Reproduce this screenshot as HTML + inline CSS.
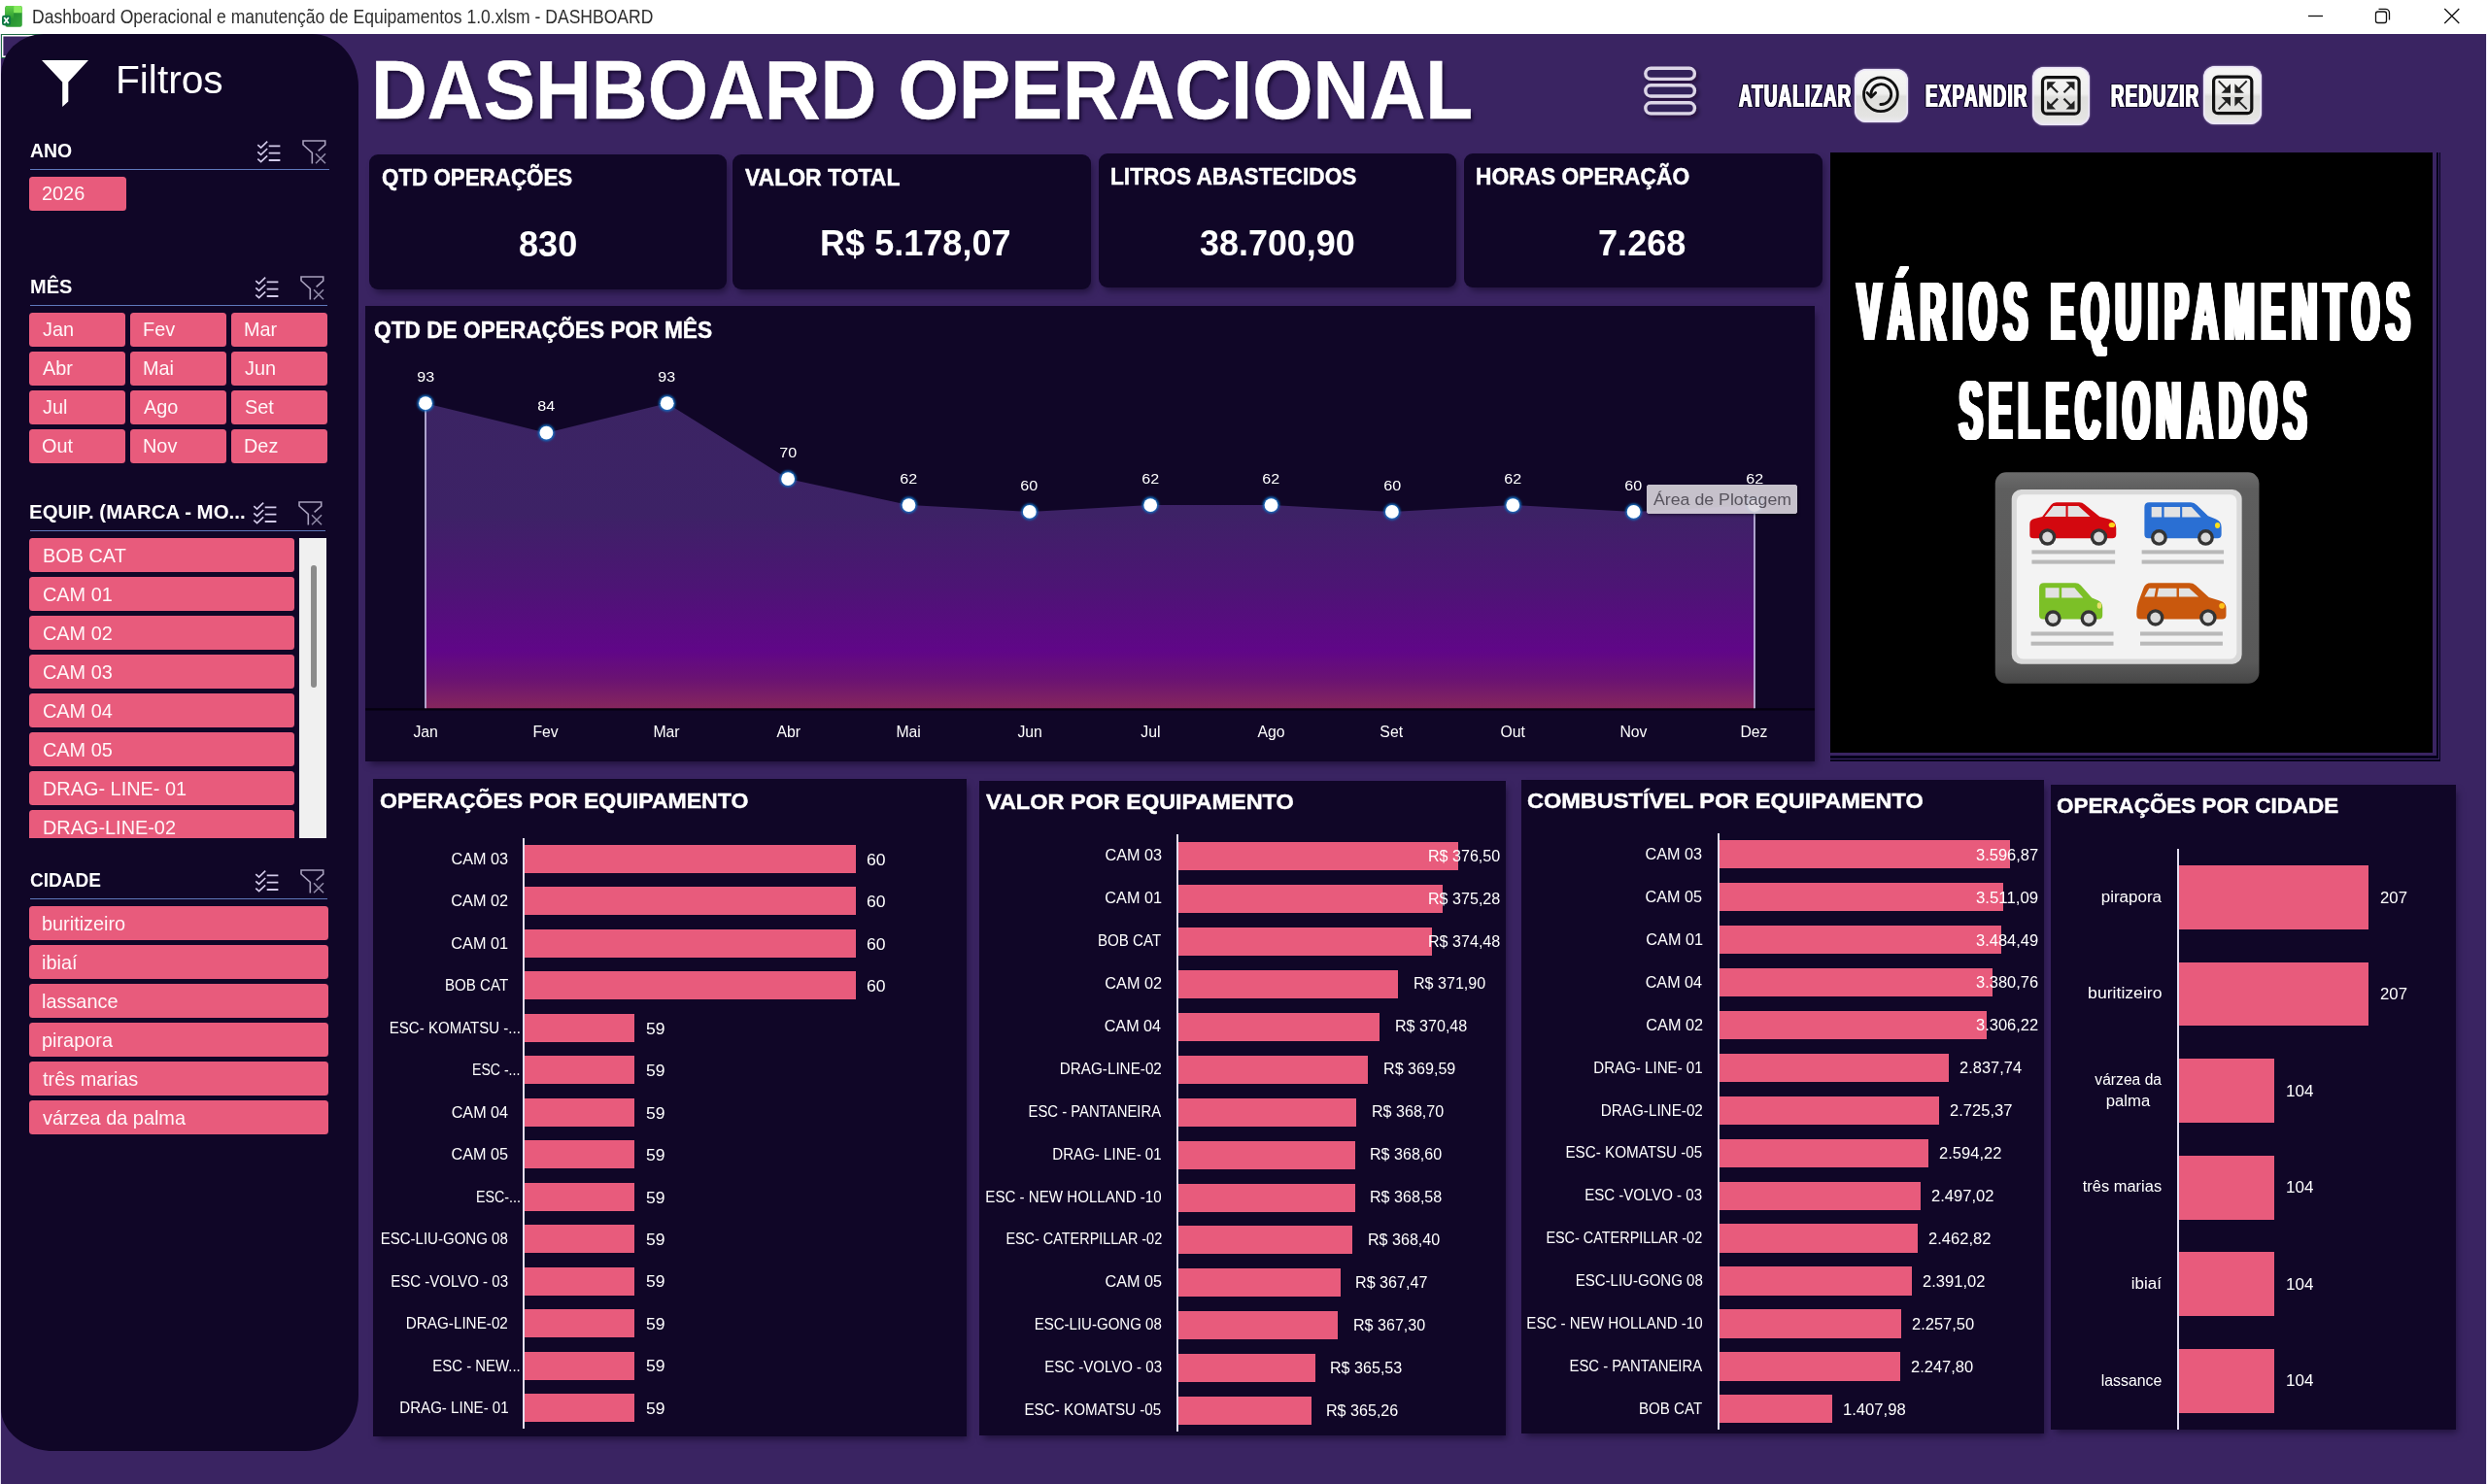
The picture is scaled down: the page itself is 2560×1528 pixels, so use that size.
<!DOCTYPE html>
<html lang="pt-BR"><head><meta charset="utf-8"><title>Dashboard Operacional</title>
<style>
*{margin:0;padding:0;box-sizing:border-box}
html,body{width:2560px;height:1528px;overflow:hidden;background:#3a2462}
body{position:relative;font-family:"Liberation Sans",sans-serif;color:#fff}
.t{position:absolute;white-space:nowrap;display:block}
.b{position:absolute}
svg{position:absolute;overflow:visible}
.sh{box-shadow:3px 5px 7px -2px rgba(8,2,24,.5)}
.btn{position:absolute;background:#e85b7c;border-radius:3.5px;height:35px}
</style></head><body>

<div class="b " style="left:0.00px;top:0.00px;width:2560.00px;height:35.00px;background:#fff;"></div>
<div class="b " style="left:2557.70px;top:35.00px;width:1.10px;height:1493.00px;background:#33235a;"></div>
<div class="b " style="left:2558.80px;top:35.00px;width:1.20px;height:1493.00px;background:#efe8fb;"></div>
<div class="b " style="left:0.00px;top:35.00px;width:1.10px;height:1493.00px;background:#e4ddf1;"></div>
<svg style="left:0;top:0" width="30" height="35" viewBox="0 0 30 35">
<defs><linearGradient id="xa" x1="0" y1="0" x2="0" y2="1"><stop offset="0" stop-color="#63d348"/><stop offset="1" stop-color="#2b9a31"/></linearGradient>
<linearGradient id="xb" x1="0" y1="0" x2="1" y2="1"><stop offset="0" stop-color="#1a7f2b"/><stop offset="1" stop-color="#36a83a"/></linearGradient></defs>
<rect x="5.3" y="6.1" width="17.5" height="21.7" rx="2.2" fill="url(#xb)"/>
<path d="M7.5 6.1h6.6v13H5.3V8.3a2.2 2.2 0 0 1 2.2-2.2z" fill="url(#xa)"/>
<path d="M14.1 6.1h6.5a2.2 2.2 0 0 1 2.2 2.2v4.9h-8.7z" fill="#86ea5e"/>
<rect x="2" y="15.8" width="9.1" height="10.5" rx="2.3" fill="#107a45"/>
<path d="M4.3 18.1l4.5 6M8.8 18.1l-4.5 6" stroke="#fff" stroke-width="1.7"/>
</svg>
<span class="t " style="font-size:19.62px;line-height:19.62px;top:7.79px;color:#2e2e2e;left:33.06px;transform-origin:0 0;transform:scaleX(0.8942);">Dashboard Operacional e manutenção de Equipamentos 1.0.xlsm - DASHBOARD</span>
<svg style="left:2370px;top:0" width="170" height="35" viewBox="2370 0 170 35" fill="none" stroke="#111" stroke-width="1.3">
<path d="M2376 16.5h15"/>
<rect x="2445.5" y="12" width="11" height="11.5" rx="2.2"/><path d="M2448.5 9.4h7a4 4 0 0 1 4 4v7.2"/>
<path d="M2516.3 9l15 15M2531.3 9l-15 15"/></svg>
<div class="b " style="left:1.00px;top:35.00px;width:45.00px;height:24.70px;background:#3a2462;border:1.8px solid #1f6b45;box-shadow:inset 0 0 0 1.4px #fff;"></div>
<div class="b " style="left:1.00px;top:35.00px;width:368.00px;height:1459.00px;background:#100627;border-radius:44px 48px 55px 55px / 42px 54px 58px 44px;"></div>
<svg style="left:43px;top:62px" width="48" height="48" viewBox="0 0 48 48"><path d="M0 0H48L27.3 22.5V42.5L21.2 48V22.5Z" fill="#fff"/></svg>
<span class="t " style="font-size:40.84px;line-height:40.84px;top:62.23px;color:#fff;left:118.96px;transform-origin:0 0;transform:scaleX(0.9957);">Filtros</span>
<span class="t " style="font-size:20.93px;line-height:20.93px;top:144.98px;color:#fff;font-weight:700;left:30.82px;transform-origin:0 0;transform:scaleX(0.9288);">ANO</span>
<svg style="left:264.8px;top:144.7px" width="24" height="23" viewBox="0 0 24 23" fill="none" stroke="#d3cbea" stroke-width="1.65">
<path d="M0.3 4.1l3.3 3 6.6-6.4M0.3 11.4l3.3 3 6.6-6.4M0.3 18.7l3.3 3 6.6-6.4"/>
<path d="M11.7 5.4h11.7M11.7 12.6h11.7M11.7 20h11.7" stroke-width="1.85"/></svg>
<svg style="left:310.5px;top:144.0px" width="25" height="25" viewBox="0 0 25 25" fill="none" stroke="#a8a1bd" stroke-width="1.6">
<path d="M16.6 11.4l7.1-6.3V1H1v4l9.3 8.4V24.6"/><path d="M14 14.3l10 10M24 14.3l-10 10" stroke="#8f89a6"/></svg>
<div class="b " style="left:31.00px;top:173.90px;width:308.00px;height:1.15px;background:#5f78bb;"></div>
<div class="btn" style="left:30.0px;top:182.0px;width:100.0px;height:35.0px"></div>
<span class="t " style="font-size:19.80px;line-height:19.80px;top:190.44px;color:#fff6f8;left:43.40px;transform-origin:0 0;transform:scaleX(1.0050);">2026</span>
<span class="t " style="font-size:20.93px;line-height:20.93px;top:284.98px;color:#fff;font-weight:700;left:30.56px;transform-origin:0 0;transform:scaleX(0.9551);">MÊS</span>
<svg style="left:262.8px;top:284.7px" width="24" height="23" viewBox="0 0 24 23" fill="none" stroke="#d3cbea" stroke-width="1.65">
<path d="M0.3 4.1l3.3 3 6.6-6.4M0.3 11.4l3.3 3 6.6-6.4M0.3 18.7l3.3 3 6.6-6.4"/>
<path d="M11.7 5.4h11.7M11.7 12.6h11.7M11.7 20h11.7" stroke-width="1.85"/></svg>
<svg style="left:308.5px;top:284.0px" width="25" height="25" viewBox="0 0 25 25" fill="none" stroke="#a8a1bd" stroke-width="1.6">
<path d="M16.6 11.4l7.1-6.3V1H1v4l9.3 8.4V24.6"/><path d="M14 14.3l10 10M24 14.3l-10 10" stroke="#8f89a6"/></svg>
<div class="b " style="left:31.00px;top:313.90px;width:306.00px;height:1.15px;background:#5f78bb;"></div>
<div class="btn" style="left:30.0px;top:322.0px;width:99.0px;height:35.0px"></div>
<span class="t " style="font-size:19.80px;line-height:19.80px;top:330.44px;color:#fff6f8;left:44.09px;transform-origin:0 0;transform:scaleX(1.0050);">Jan</span>
<div class="btn" style="left:134.0px;top:322.0px;width:99.0px;height:35.0px"></div>
<span class="t " style="font-size:19.80px;line-height:19.80px;top:330.44px;color:#fff6f8;left:146.77px;transform-origin:0 0;transform:scaleX(1.0050);">Fev</span>
<div class="btn" style="left:238.0px;top:322.0px;width:99.0px;height:35.0px"></div>
<span class="t " style="font-size:19.80px;line-height:19.80px;top:330.44px;color:#fff6f8;left:250.77px;transform-origin:0 0;transform:scaleX(1.0050);">Mar</span>
<div class="btn" style="left:30.0px;top:362.0px;width:99.0px;height:35.0px"></div>
<span class="t " style="font-size:19.80px;line-height:19.80px;top:370.44px;color:#fff6f8;left:44.36px;transform-origin:0 0;transform:scaleX(1.0050);">Abr</span>
<div class="btn" style="left:134.0px;top:362.0px;width:99.0px;height:35.0px"></div>
<span class="t " style="font-size:19.80px;line-height:19.80px;top:370.44px;color:#fff6f8;left:146.77px;transform-origin:0 0;transform:scaleX(1.0050);">Mai</span>
<div class="btn" style="left:238.0px;top:362.0px;width:99.0px;height:35.0px"></div>
<span class="t " style="font-size:19.80px;line-height:19.80px;top:370.44px;color:#fff6f8;left:252.09px;transform-origin:0 0;transform:scaleX(1.0050);">Jun</span>
<div class="btn" style="left:30.0px;top:402.0px;width:99.0px;height:35.0px"></div>
<span class="t " style="font-size:19.80px;line-height:19.80px;top:410.44px;color:#fff6f8;left:44.09px;transform-origin:0 0;transform:scaleX(1.0050);">Jul</span>
<div class="btn" style="left:134.0px;top:402.0px;width:99.0px;height:35.0px"></div>
<span class="t " style="font-size:19.80px;line-height:19.80px;top:410.44px;color:#fff6f8;left:148.36px;transform-origin:0 0;transform:scaleX(1.0050);">Ago</span>
<div class="btn" style="left:238.0px;top:402.0px;width:99.0px;height:35.0px"></div>
<span class="t " style="font-size:19.80px;line-height:19.80px;top:410.44px;color:#fff6f8;left:251.50px;transform-origin:0 0;transform:scaleX(1.0050);">Set</span>
<div class="btn" style="left:30.0px;top:442.0px;width:99.0px;height:35.0px"></div>
<span class="t " style="font-size:19.80px;line-height:19.80px;top:450.44px;color:#fff6f8;left:43.46px;transform-origin:0 0;transform:scaleX(1.0050);">Out</span>
<div class="btn" style="left:134.0px;top:442.0px;width:99.0px;height:35.0px"></div>
<span class="t " style="font-size:19.80px;line-height:19.80px;top:450.44px;color:#fff6f8;left:146.77px;transform-origin:0 0;transform:scaleX(1.0050);">Nov</span>
<div class="btn" style="left:238.0px;top:442.0px;width:99.0px;height:35.0px"></div>
<span class="t " style="font-size:19.80px;line-height:19.80px;top:450.44px;color:#fff6f8;left:250.77px;transform-origin:0 0;transform:scaleX(1.0050);">Dez</span>
<span class="t " style="font-size:20.93px;line-height:20.93px;top:516.88px;color:#fff;font-weight:700;left:30.33px;transform-origin:0 0;transform:scaleX(0.9770);">EQUIP. (MARCA - MO...</span>
<svg style="left:260.8px;top:516.6px" width="24" height="23" viewBox="0 0 24 23" fill="none" stroke="#d3cbea" stroke-width="1.65">
<path d="M0.3 4.1l3.3 3 6.6-6.4M0.3 11.4l3.3 3 6.6-6.4M0.3 18.7l3.3 3 6.6-6.4"/>
<path d="M11.7 5.4h11.7M11.7 12.6h11.7M11.7 20h11.7" stroke-width="1.85"/></svg>
<svg style="left:306.5px;top:515.9px" width="25" height="25" viewBox="0 0 25 25" fill="none" stroke="#a8a1bd" stroke-width="1.6">
<path d="M16.6 11.4l7.1-6.3V1H1v4l9.3 8.4V24.6"/><path d="M14 14.3l10 10M24 14.3l-10 10" stroke="#8f89a6"/></svg>
<div class="b " style="left:31.00px;top:545.80px;width:304.00px;height:1.15px;background:#5f78bb;"></div>
<div class="b" style="left:30px;top:554px;width:306px;height:309px;overflow:hidden">
<div class="btn" style="left:0;top:0.3px;width:273px"></div>
<span class="t" style="left:14.40px;top:8.74px;font-size:19.8px;line-height:19.8px;color:#fff6f8;transform-origin:0 0;transform:scaleX(1.005)">BOB CAT</span>
<div class="btn" style="left:0;top:40.3px;width:273px"></div>
<span class="t" style="left:14.40px;top:48.74px;font-size:19.8px;line-height:19.8px;color:#fff6f8;transform-origin:0 0;transform:scaleX(1.005)">CAM 01</span>
<div class="btn" style="left:0;top:80.3px;width:273px"></div>
<span class="t" style="left:14.40px;top:88.74px;font-size:19.8px;line-height:19.8px;color:#fff6f8;transform-origin:0 0;transform:scaleX(1.005)">CAM 02</span>
<div class="btn" style="left:0;top:120.3px;width:273px"></div>
<span class="t" style="left:14.40px;top:128.74px;font-size:19.8px;line-height:19.8px;color:#fff6f8;transform-origin:0 0;transform:scaleX(1.005)">CAM 03</span>
<div class="btn" style="left:0;top:160.3px;width:273px"></div>
<span class="t" style="left:14.40px;top:168.74px;font-size:19.8px;line-height:19.8px;color:#fff6f8;transform-origin:0 0;transform:scaleX(1.005)">CAM 04</span>
<div class="btn" style="left:0;top:200.3px;width:273px"></div>
<span class="t" style="left:14.40px;top:208.74px;font-size:19.8px;line-height:19.8px;color:#fff6f8;transform-origin:0 0;transform:scaleX(1.005)">CAM 05</span>
<div class="btn" style="left:0;top:240.3px;width:273px"></div>
<span class="t" style="left:14.40px;top:248.74px;font-size:19.8px;line-height:19.8px;color:#fff6f8;transform-origin:0 0;transform:scaleX(1.005)">DRAG- LINE- 01</span>
<div class="btn" style="left:0;top:280.3px;width:273px"></div>
<span class="t" style="left:14.40px;top:288.74px;font-size:19.8px;line-height:19.8px;color:#fff6f8;transform-origin:0 0;transform:scaleX(1.005)">DRAG-LINE-02</span>
<div class="b" style="left:278px;top:0;width:28px;height:309px;background:#f0f0f0"></div>
<div class="b" style="left:290px;top:28px;width:6px;height:126px;background:#8b8b8b;border-radius:3px"></div>
</div>
<span class="t " style="font-size:20.93px;line-height:20.93px;top:896.18px;color:#fff;font-weight:700;left:31.12px;transform-origin:0 0;transform:scaleX(0.9089);">CIDADE</span>
<svg style="left:262.8px;top:895.9px" width="24" height="23" viewBox="0 0 24 23" fill="none" stroke="#d3cbea" stroke-width="1.65">
<path d="M0.3 4.1l3.3 3 6.6-6.4M0.3 11.4l3.3 3 6.6-6.4M0.3 18.7l3.3 3 6.6-6.4"/>
<path d="M11.7 5.4h11.7M11.7 12.6h11.7M11.7 20h11.7" stroke-width="1.85"/></svg>
<svg style="left:308.5px;top:895.2px" width="25" height="25" viewBox="0 0 25 25" fill="none" stroke="#a8a1bd" stroke-width="1.6">
<path d="M16.6 11.4l7.1-6.3V1H1v4l9.3 8.4V24.6"/><path d="M14 14.3l10 10M24 14.3l-10 10" stroke="#8f89a6"/></svg>
<div class="b " style="left:31.00px;top:925.10px;width:306.00px;height:1.15px;background:#5f78bb;"></div>
<div class="btn" style="left:30.0px;top:933.3px;width:308.0px;height:35.0px"></div>
<span class="t " style="font-size:19.80px;line-height:19.80px;top:941.74px;color:#fff6f8;left:43.12px;transform-origin:0 0;transform:scaleX(1.0050);">buritizeiro</span>
<div class="btn" style="left:30.0px;top:973.3px;width:308.0px;height:35.0px"></div>
<span class="t " style="font-size:19.80px;line-height:19.80px;top:981.74px;color:#fff6f8;left:43.07px;transform-origin:0 0;transform:scaleX(1.0050);">ibiaí</span>
<div class="btn" style="left:30.0px;top:1013.3px;width:308.0px;height:35.0px"></div>
<span class="t " style="font-size:19.80px;line-height:19.80px;top:1021.74px;color:#fff6f8;left:43.06px;transform-origin:0 0;transform:scaleX(1.0050);">lassance</span>
<div class="btn" style="left:30.0px;top:1053.3px;width:308.0px;height:35.0px"></div>
<span class="t " style="font-size:19.80px;line-height:19.80px;top:1061.74px;color:#fff6f8;left:43.12px;transform-origin:0 0;transform:scaleX(1.0050);">pirapora</span>
<div class="btn" style="left:30.0px;top:1093.3px;width:308.0px;height:35.0px"></div>
<span class="t " style="font-size:19.80px;line-height:19.80px;top:1101.74px;color:#fff6f8;left:44.10px;transform-origin:0 0;transform:scaleX(1.0050);">três marias</span>
<div class="btn" style="left:30.0px;top:1133.3px;width:308.0px;height:35.0px"></div>
<span class="t " style="font-size:19.80px;line-height:19.80px;top:1141.74px;color:#fff6f8;left:44.33px;transform-origin:0 0;transform:scaleX(1.0050);">várzea da palma</span>
<span class="t " style="font-size:84.45px;line-height:84.45px;top:50.72px;color:#fff;font-weight:700;left:381.54px;transform-origin:0 0;transform:scaleX(0.9481);text-shadow:2.5px 3px 3.5px rgba(10,2,30,.68);-webkit-text-stroke:.5px #fff;">DASHBOARD OPERACIONAL</span>
<svg style="left:1686px;top:62px" width="70" height="66" viewBox="1686 62 70 66">
<defs><filter id="hs" x="-20%" y="-20%" width="150%" height="150%"><feDropShadow dx="2.5" dy="3" stdDeviation="2" flood-color="#0a021e" flood-opacity=".55"/></filter></defs>
<g fill="#33205a" stroke="#dcd6e7" stroke-width="3.4" filter="url(#hs)">
<rect x="1693.8" y="70.2" width="50.6" height="11.2" rx="5.6"/>
<rect x="1693.8" y="87.8" width="50.6" height="11.2" rx="5.6"/>
<rect x="1693.8" y="105.7" width="50.6" height="11.2" rx="5.6"/></g></svg>
<span class="t" style="font-weight:700;font-size:33.87px;line-height:33.87px;left:1790.29px;top:81.63px;color:#fff;transform-origin:0 0;transform:scaleX(0.5514);letter-spacing:2.20px;text-shadow:0.68px 0 #fff,-0.68px 0 #fff,1.36px 0 #fff,-1.36px 0 #fff,3.54px 0.00px 0 #130a2c,-3.54px 0.00px 0 #130a2c,0.00px 1.20px 0 #130a2c,0.00px -1.20px 0 #130a2c,2.83px 0.96px 0 #130a2c,-2.83px 0.96px 0 #130a2c,2.83px -0.96px 0 #130a2c,-2.83px -0.96px 0 #130a2c,1.36px 1.20px 0 #130a2c,-1.36px 1.20px 0 #130a2c,1.36px -1.20px 0 #130a2c,-1.36px -1.20px 0 #130a2c;">ATUALIZAR</span>
<span class="t" style="font-weight:700;font-size:33.87px;line-height:33.87px;left:1981.79px;top:81.63px;color:#fff;transform-origin:0 0;transform:scaleX(0.5559);letter-spacing:2.20px;text-shadow:0.67px 0 #fff,-0.67px 0 #fff,1.35px 0 #fff,-1.35px 0 #fff,3.51px 0.00px 0 #130a2c,-3.51px 0.00px 0 #130a2c,0.00px 1.20px 0 #130a2c,0.00px -1.20px 0 #130a2c,2.81px 0.96px 0 #130a2c,-2.81px 0.96px 0 #130a2c,2.81px -0.96px 0 #130a2c,-2.81px -0.96px 0 #130a2c,1.35px 1.20px 0 #130a2c,-1.35px 1.20px 0 #130a2c,1.35px -1.20px 0 #130a2c,-1.35px -1.20px 0 #130a2c;">EXPANDIR</span>
<span class="t" style="font-weight:700;font-size:33.87px;line-height:33.87px;left:2172.70px;top:81.63px;color:#fff;transform-origin:0 0;transform:scaleX(0.5505);letter-spacing:2.20px;text-shadow:0.68px 0 #fff,-0.68px 0 #fff,1.36px 0 #fff,-1.36px 0 #fff,3.54px 0.00px 0 #130a2c,-3.54px 0.00px 0 #130a2c,0.00px 1.20px 0 #130a2c,0.00px -1.20px 0 #130a2c,2.83px 0.96px 0 #130a2c,-2.83px 0.96px 0 #130a2c,2.83px -0.96px 0 #130a2c,-2.83px -0.96px 0 #130a2c,1.36px 1.20px 0 #130a2c,-1.36px 1.20px 0 #130a2c,1.36px -1.20px 0 #130a2c,-1.36px -1.20px 0 #130a2c;">REDUZIR</span>
<div class="b" style="left:1909.2px;top:70.8px;width:55.2px;height:55.2px;border-radius:12px;background:linear-gradient(180deg,#f6f6f5 0%,#efefee 46%,#dededc 52%,#e4e4e2 88%,#ecebf0 100%);box-shadow:inset 0 0 0 1.6px #ece6f8, 0 0 2px rgba(236,230,248,.8)"></div>
<svg style="left:1909px;top:70px" width="56" height="56" viewBox="1909 70 56 56" fill="none" stroke="#111" stroke-width="2.8" stroke-linecap="round">
<circle cx="1935.9" cy="97.2" r="17.4"/>
<path d="M1926.2 99.5a10.4 10.4 0 1 1 9.6 8"/><path d="M1922 95.6l4.1 4.4 4.6-4.6" stroke-linejoin="round"/></svg>
<div class="b" style="left:2092.0px;top:68.6px;width:59.1px;height:60.1px;border-radius:12px;background:linear-gradient(180deg,#f6f6f5 0%,#efefee 46%,#dededc 52%,#e4e4e2 88%,#ecebf0 100%);box-shadow:inset 0 0 0 1.6px #ece6f8, 0 0 2px rgba(236,230,248,.8)"></div>
<svg style="left:2092px;top:68px" width="61" height="62" viewBox="2092 68 61 62"><rect x="2102.5" y="79.6" width="37.6" height="37.6" rx="4.5" fill="none" stroke="#111" stroke-width="3.2"/><path d="M2118.1 95.2L2110.1 87.2" stroke="#222" stroke-width="2.2"/><path d="M2107.1 84.2L2116.1 84.2L2107.1 93.2Z" fill="#222"/><path d="M2124.5 95.2L2132.5 87.2" stroke="#222" stroke-width="2.2"/><path d="M2135.5 84.2L2126.5 84.2L2135.5 93.2Z" fill="#222"/><path d="M2118.1 101.6L2110.1 109.6" stroke="#222" stroke-width="2.2"/><path d="M2107.1 112.6L2116.1 112.6L2107.1 103.6Z" fill="#222"/><path d="M2124.5 101.6L2132.5 109.6" stroke="#222" stroke-width="2.2"/><path d="M2135.5 112.6L2126.5 112.6L2135.5 103.6Z" fill="#222"/></svg>
<div class="b" style="left:2268.2px;top:68.0px;width:60.1px;height:60.2px;border-radius:12px;background:linear-gradient(180deg,#f6f6f5 0%,#efefee 46%,#dededc 52%,#e4e4e2 88%,#ecebf0 100%);box-shadow:inset 0 0 0 1.6px #ece6f8, 0 0 2px rgba(236,230,248,.8)"></div>
<svg style="left:2268px;top:68px" width="62" height="62" viewBox="2268 68 62 62"><rect x="2278.6" y="79.1" width="39.2" height="37.6" rx="4.5" fill="none" stroke="#111" stroke-width="3.2"/><path d="M2283.7 83.4L2293.0 92.7" stroke="#222" stroke-width="2"/><path d="M2296.0 95.7L2286.5 95.7L2296.0 86.2Z" fill="#222"/><path d="M2312.7 83.4L2303.4 92.7" stroke="#222" stroke-width="2"/><path d="M2300.4 95.7L2309.9 95.7L2300.4 86.2Z" fill="#222"/><path d="M2283.7 112.4L2293.0 103.1" stroke="#222" stroke-width="2"/><path d="M2296.0 100.1L2286.5 100.1L2296.0 109.6Z" fill="#222"/><path d="M2312.7 112.4L2303.4 103.1" stroke="#222" stroke-width="2"/><path d="M2300.4 100.1L2309.9 100.1L2300.4 109.6Z" fill="#222"/></svg>
<div class="b sh" style="left:380.30px;top:159.20px;width:367.50px;height:138.40px;background:#100627;border-radius:9px;"></div>
<span class="t " style="font-size:23.69px;line-height:23.69px;top:171.84px;color:#fff;font-weight:700;left:392.98px;transform-origin:0 0;transform:scaleX(0.9438);-webkit-text-stroke:.45px #fff;">QTD OPERAÇÕES</span>
<span class="t " style="font-size:37.57px;line-height:37.57px;top:233.30px;color:#fff;font-weight:700;left:533.55px;transform-origin:0 0;transform:scaleX(0.9607);">830</span>
<div class="b sh" style="left:754.30px;top:159.20px;width:368.40px;height:138.40px;background:#100627;border-radius:9px;"></div>
<span class="t " style="font-size:23.69px;line-height:23.69px;top:171.84px;color:#fff;font-weight:700;left:767.04px;transform-origin:0 0;transform:scaleX(0.9693);-webkit-text-stroke:.45px #fff;">VALOR TOTAL</span>
<span class="t " style="font-size:37.57px;line-height:37.57px;top:232.30px;color:#fff;font-weight:700;left:844.39px;transform-origin:0 0;transform:scaleX(0.9603);">R$ 5.178,07</span>
<div class="b sh" style="left:1131.20px;top:157.90px;width:367.50px;height:138.40px;background:#100627;border-radius:9px;"></div>
<span class="t " style="font-size:23.69px;line-height:23.69px;top:170.54px;color:#fff;font-weight:700;left:1142.68px;transform-origin:0 0;transform:scaleX(0.9562);-webkit-text-stroke:.45px #fff;">LITROS ABASTECIDOS</span>
<span class="t " style="font-size:37.57px;line-height:37.57px;top:232.30px;color:#fff;font-weight:700;left:1234.88px;transform-origin:0 0;transform:scaleX(0.9560);">38.700,90</span>
<div class="b sh" style="left:1507.00px;top:157.90px;width:369.00px;height:138.40px;background:#100627;border-radius:9px;"></div>
<span class="t " style="font-size:23.69px;line-height:23.69px;top:170.54px;color:#fff;font-weight:700;left:1518.78px;transform-origin:0 0;transform:scaleX(0.9613);-webkit-text-stroke:.45px #fff;">HORAS OPERAÇÃO</span>
<span class="t " style="font-size:37.57px;line-height:37.57px;top:232.30px;color:#fff;font-weight:700;left:1645.05px;transform-origin:0 0;transform:scaleX(0.9622);">7.268</span>
<div class="b " style="left:1883.90px;top:156.80px;width:628.10px;height:626.80px;background:#05021a;"></div>
<div class="b " style="left:1883.90px;top:156.80px;width:627.10px;height:625.50px;background:transparent;border-right:1.2px solid #3a2564;border-bottom:1.2px solid #3a2564;"></div>
<div class="b " style="left:1883.90px;top:156.80px;width:624.30px;height:621.60px;background:#3a2462;"></div>
<div class="b " style="left:1883.90px;top:156.80px;width:620.10px;height:618.00px;background:#000;"></div>
<span class="t" style="font-weight:700;font-size:85.32px;line-height:85.32px;left:1911.80px;top:278.08px;color:#fff;transform-origin:0 0;transform:scaleX(0.4268);letter-spacing:16.50px;text-shadow:0.72px 0 #fff,-0.72px 0 #fff,1.43px 0 #fff,-1.43px 0 #fff,2.15px 0 #fff,-2.15px 0 #fff,2.87px 0 #fff,-2.87px 0 #fff,3.59px 0 #fff,-3.59px 0 #fff,4.30px 0 #fff,-4.30px 0 #fff,5.02px 0 #fff,-5.02px 0 #fff,5.74px 0 #fff,-5.74px 0 #fff;">VÁRIOS EQUIPAMENTOS</span>
<span class="t" style="font-weight:700;font-size:84.59px;line-height:84.59px;left:2017.04px;top:381.19px;color:#fff;transform-origin:0 0;transform:scaleX(0.4160);letter-spacing:16.50px;text-shadow:0.74px 0 #fff,-0.74px 0 #fff,1.47px 0 #fff,-1.47px 0 #fff,2.21px 0 #fff,-2.21px 0 #fff,2.94px 0 #fff,-2.94px 0 #fff,3.68px 0 #fff,-3.68px 0 #fff,4.42px 0 #fff,-4.42px 0 #fff,5.15px 0 #fff,-5.15px 0 #fff,5.89px 0 #fff,-5.89px 0 #fff;">SELECIONADOS</span>
<svg style="left:2040px;top:475px" width="300" height="240" viewBox="0 0 1855 1484"><defs><linearGradient id="tb" x1="0" y1="0" x2="0" y2="1"><stop offset="0" stop-color="#6c6c6c"/><stop offset=".08" stop-color="#5e5e5e"/><stop offset=".9" stop-color="#595959"/><stop offset="1" stop-color="#474747"/></linearGradient></defs><rect x="85" y="70" width="1680" height="1345" rx="70" fill="url(#tb)"/><rect x="190" y="180" width="1465" height="1110" rx="60" fill="#d9d9d9"/><rect x="222" y="212" width="1400" height="1046" rx="40" fill="#f3f3f3"/><path d="M305 470V400Q305 372 335 365L385 352L440 278Q452 262 475 262H620Q640 262 655 275L750 352L815 370Q855 382 855 425V465Q855 490 830 490H330Q305 490 305 470Z" fill="#d3080f"/><path d="M400 352L455 285H535V352ZM548 285H615L690 352H548Z" fill="#e2e2e2"/><circle cx="418" cy="482" r="54" fill="#343434"/><circle cx="418" cy="482" r="33" fill="#dadada"/><circle cx="745" cy="482" r="54" fill="#343434"/><circle cx="745" cy="482" r="33" fill="#dadada"/><path d="M1035 465V292Q1035 262 1065 262H1330Q1352 262 1368 278L1440 348L1490 368Q1525 382 1525 420V465Q1525 490 1500 490H1060Q1035 490 1035 465Z" fill="#2a6fd3"/><path d="M1080 290H1145V355H1080ZM1160 290H1262V355H1160ZM1275 290H1335L1395 355H1275Z" fill="#e2e2e2"/><circle cx="1128" cy="485" r="52" fill="#343434"/><circle cx="1128" cy="485" r="31" fill="#dadada"/><circle cx="1425" cy="485" r="52" fill="#343434"/><circle cx="1425" cy="485" r="31" fill="#dadada"/><path d="M365 980V805Q365 775 395 775H595Q615 775 630 790L700 868L740 885Q768 897 768 930V980Q768 1005 745 1005H390Q365 1005 365 980Z" fill="#7cc027"/><path d="M405 805H492V868H405ZM508 805H590L645 868H508Z" fill="#e2e2e2"/><circle cx="453" cy="1000" r="52" fill="#343434"/><circle cx="453" cy="1000" r="31" fill="#dadada"/><circle cx="680" cy="1000" r="52" fill="#343434"/><circle cx="680" cy="1000" r="31" fill="#dadada"/><path d="M985 975Q985 920 1000 885L1030 805Q1042 775 1075 775H1320Q1345 775 1362 790L1445 865L1510 885Q1555 898 1555 935V980Q1555 1005 1530 1005H1010Q985 1005 985 975Z" fill="#c9580d"/><path d="M1035 862L1065 808H1108L1098 862ZM1125 808H1240V862H1115ZM1255 808H1320L1380 862H1255Z" fill="#e2e2e2"/><circle cx="1105" cy="995" r="54" fill="#343434"/><circle cx="1105" cy="995" r="33" fill="#dadada"/><circle cx="1440" cy="995" r="54" fill="#343434"/><circle cx="1440" cy="995" r="33" fill="#dadada"/><ellipse cx="828" cy="405" rx="20" ry="16" fill="#ffd21a"/><ellipse cx="1500" cy="408" rx="16" ry="18" fill="#ffe11a"/><ellipse cx="748" cy="918" rx="14" ry="20" fill="#e8e06a"/><ellipse cx="1528" cy="920" rx="18" ry="18" fill="#ffc21a"/><rect x="318" y="565" width="530" height="25" fill="#b9b9b9"/><rect x="318" y="628" width="530" height="25" fill="#b9b9b9"/><rect x="1018" y="565" width="522" height="25" fill="#b9b9b9"/><rect x="1018" y="628" width="522" height="25" fill="#b9b9b9"/><rect x="313" y="1085" width="525" height="25" fill="#b9b9b9"/><rect x="313" y="1148" width="525" height="25" fill="#b9b9b9"/><rect x="1008" y="1085" width="525" height="25" fill="#b9b9b9"/><rect x="1008" y="1148" width="525" height="25" fill="#b9b9b9"/></svg>
<div class="b sh" style="left:376.00px;top:315.20px;width:1492.00px;height:469.30px;background:#100627;"></div>
<span class="t " style="font-size:23.55px;line-height:23.55px;top:328.77px;color:#fff;font-weight:700;left:384.97px;transform-origin:0 0;transform:scaleX(0.9641);-webkit-text-stroke:.45px #fff;">QTD DE OPERAÇÕES POR MÊS</span>
<svg style="left:0;top:0" width="2560" height="1528" viewBox="0 0 2560 1528"><defs><linearGradient id="ag" gradientUnits="userSpaceOnUse" x1="0" y1="415" x2="0" y2="730"><stop offset="0" stop-color="#3b2463"/><stop offset=".36" stop-color="#3d2266"/><stop offset=".62" stop-color="#4e1376"/><stop offset=".81" stop-color="#600688"/><stop offset=".9" stop-color="#6a1273"/><stop offset="1" stop-color="#86275c"/></linearGradient><filter id="gl" x="-50%" y="-50%" width="200%" height="200%"><feGaussianBlur stdDeviation="1.1"/></filter></defs><path d="M438.0 730.0L438.0 415.2L562.4 445.7L686.7 415.2L811.1 493.1L935.5 520.1L1059.8 526.9L1184.2 520.1L1308.5 520.1L1432.9 526.9L1557.3 520.1L1681.6 526.9L1806.0 520.1L1806.0 730.0Z" fill="url(#ag)"/><path d="M376 730.4H1868" stroke="#05010f" stroke-width="2.4"/><path d="M438.0 415.2V729.2M1806.0 520.1V729.2" stroke="#cfc7ee" stroke-width="1.6"/><circle cx="438.0" cy="415.2" r="8.5" fill="#1270c4" filter="url(#gl)"/><circle cx="438.0" cy="415.2" r="6.9" fill="#fff"/><circle cx="562.4" cy="445.7" r="8.5" fill="#1270c4" filter="url(#gl)"/><circle cx="562.4" cy="445.7" r="6.9" fill="#fff"/><circle cx="686.7" cy="415.2" r="8.5" fill="#1270c4" filter="url(#gl)"/><circle cx="686.7" cy="415.2" r="6.9" fill="#fff"/><circle cx="811.1" cy="493.1" r="8.5" fill="#1270c4" filter="url(#gl)"/><circle cx="811.1" cy="493.1" r="6.9" fill="#fff"/><circle cx="935.5" cy="520.1" r="8.5" fill="#1270c4" filter="url(#gl)"/><circle cx="935.5" cy="520.1" r="6.9" fill="#fff"/><circle cx="1059.8" cy="526.9" r="8.5" fill="#1270c4" filter="url(#gl)"/><circle cx="1059.8" cy="526.9" r="6.9" fill="#fff"/><circle cx="1184.2" cy="520.1" r="8.5" fill="#1270c4" filter="url(#gl)"/><circle cx="1184.2" cy="520.1" r="6.9" fill="#fff"/><circle cx="1308.5" cy="520.1" r="8.5" fill="#1270c4" filter="url(#gl)"/><circle cx="1308.5" cy="520.1" r="6.9" fill="#fff"/><circle cx="1432.9" cy="526.9" r="8.5" fill="#1270c4" filter="url(#gl)"/><circle cx="1432.9" cy="526.9" r="6.9" fill="#fff"/><circle cx="1557.3" cy="520.1" r="8.5" fill="#1270c4" filter="url(#gl)"/><circle cx="1557.3" cy="520.1" r="6.9" fill="#fff"/><circle cx="1681.6" cy="526.9" r="8.5" fill="#1270c4" filter="url(#gl)"/><circle cx="1681.6" cy="526.9" r="6.9" fill="#fff"/><circle cx="1806.0" cy="520.1" r="8.5" fill="#1270c4" filter="url(#gl)"/><circle cx="1806.0" cy="520.1" r="6.9" fill="#fff"/></svg>
<span class="t " style="font-size:14.90px;line-height:14.90px;top:380.98px;color:#fff;left:429.69px;transform-origin:50% 0;transform:scaleX(1.0800);">93</span>
<span class="t " style="font-size:16.30px;line-height:16.30px;top:745.40px;color:#fff;left:425.25px;transform-origin:50% 0;transform:scaleX(0.9700);">Jan</span>
<span class="t " style="font-size:14.90px;line-height:14.90px;top:411.45px;color:#fff;left:553.96px;transform-origin:50% 0;transform:scaleX(1.0800);">84</span>
<span class="t " style="font-size:16.30px;line-height:16.30px;top:745.40px;color:#fff;left:548.16px;transform-origin:50% 0;transform:scaleX(0.9700);">Fev</span>
<span class="t " style="font-size:14.90px;line-height:14.90px;top:380.98px;color:#fff;left:678.42px;transform-origin:50% 0;transform:scaleX(1.0800);">93</span>
<span class="t " style="font-size:16.30px;line-height:16.30px;top:745.40px;color:#fff;left:672.17px;transform-origin:50% 0;transform:scaleX(0.9700);">Mar</span>
<span class="t " style="font-size:14.90px;line-height:14.90px;top:458.84px;color:#fff;left:802.71px;transform-origin:50% 0;transform:scaleX(1.0800);">70</span>
<span class="t " style="font-size:16.30px;line-height:16.30px;top:745.40px;color:#fff;left:798.52px;transform-origin:50% 0;transform:scaleX(0.9700);">Abr</span>
<span class="t " style="font-size:14.90px;line-height:14.90px;top:485.92px;color:#fff;left:927.16px;transform-origin:50% 0;transform:scaleX(1.0800);">62</span>
<span class="t " style="font-size:16.30px;line-height:16.30px;top:745.40px;color:#fff;left:922.21px;transform-origin:50% 0;transform:scaleX(0.9700);">Mai</span>
<span class="t " style="font-size:14.90px;line-height:14.90px;top:492.69px;color:#fff;left:1051.44px;transform-origin:50% 0;transform:scaleX(1.0800);">60</span>
<span class="t " style="font-size:16.30px;line-height:16.30px;top:745.40px;color:#fff;left:1047.07px;transform-origin:50% 0;transform:scaleX(0.9700);">Jun</span>
<span class="t " style="font-size:14.90px;line-height:14.90px;top:485.92px;color:#fff;left:1175.89px;transform-origin:50% 0;transform:scaleX(1.0800);">62</span>
<span class="t " style="font-size:16.30px;line-height:16.30px;top:745.40px;color:#fff;left:1174.17px;transform-origin:50% 0;transform:scaleX(0.9700);">Jul</span>
<span class="t " style="font-size:14.90px;line-height:14.90px;top:485.92px;color:#fff;left:1300.25px;transform-origin:50% 0;transform:scaleX(1.0800);">62</span>
<span class="t " style="font-size:16.30px;line-height:16.30px;top:745.40px;color:#fff;left:1294.36px;transform-origin:50% 0;transform:scaleX(0.9700);">Ago</span>
<span class="t " style="font-size:14.90px;line-height:14.90px;top:492.69px;color:#fff;left:1424.53px;transform-origin:50% 0;transform:scaleX(1.0800);">60</span>
<span class="t " style="font-size:16.30px;line-height:16.30px;top:745.40px;color:#fff;left:1420.37px;transform-origin:50% 0;transform:scaleX(0.9700);">Set</span>
<span class="t " style="font-size:14.90px;line-height:14.90px;top:485.92px;color:#fff;left:1548.98px;transform-origin:50% 0;transform:scaleX(1.0800);">62</span>
<span class="t " style="font-size:16.30px;line-height:16.30px;top:745.40px;color:#fff;left:1543.82px;transform-origin:50% 0;transform:scaleX(0.9700);">Out</span>
<span class="t " style="font-size:14.90px;line-height:14.90px;top:492.69px;color:#fff;left:1673.26px;transform-origin:50% 0;transform:scaleX(1.0800);">60</span>
<span class="t " style="font-size:16.30px;line-height:16.30px;top:745.40px;color:#fff;left:1666.52px;transform-origin:50% 0;transform:scaleX(0.9700);">Nov</span>
<span class="t " style="font-size:14.90px;line-height:14.90px;top:485.92px;color:#fff;left:1797.71px;transform-origin:50% 0;transform:scaleX(1.0800);">62</span>
<span class="t " style="font-size:16.30px;line-height:16.30px;top:745.40px;color:#fff;left:1791.25px;transform-origin:50% 0;transform:scaleX(0.9700);">Dez</span>
<div class="b " style="left:1694.90px;top:499.00px;width:155.30px;height:29.90px;background:rgba(218,214,222,.9);border:1px solid #c6c1cd;border-radius:2px;box-shadow:1px 2px 3px rgba(0,0,0,.35);"></div>
<span class="t " style="font-size:17.40px;line-height:17.40px;top:506.17px;color:#58545e;left:1701.57px;transform-origin:0 0;transform:scaleX(1.0202);">Área de Plotagem</span>
<div class="b sh" style="left:384.20px;top:802.10px;width:610.80px;height:676.50px;background:#100627;"></div>
<span class="t " style="font-size:22.82px;line-height:22.82px;top:812.68px;color:#fff;font-weight:700;left:390.55px;transform-origin:0 0;transform:scaleX(1.0098);-webkit-text-stroke:.45px #fff;">OPERAÇÕES POR EQUIPAMENTO</span>
<div class="b " style="left:538.05px;top:863.30px;width:1.90px;height:607.40px;background:#e4def2;"></div>
<div class="b " style="left:540.20px;top:869.80px;width:340.60px;height:29.00px;background:#e85b7c;"></div>
<span class="t " style="font-size:15.80px;line-height:15.80px;top:876.73px;color:#fff;right:2036.89px;transform-origin:100% 0;transform:scaleX(1.0274);">CAM 03</span>
<span class="t " style="font-size:15.70px;line-height:15.70px;top:877.66px;color:#fff;left:892.31px;transform-origin:0 0;transform:scaleX(1.1213);">60</span>
<div class="b " style="left:540.20px;top:913.28px;width:340.60px;height:29.00px;background:#e85b7c;"></div>
<span class="t " style="font-size:15.80px;line-height:15.80px;top:920.21px;color:#fff;right:2036.78px;transform-origin:100% 0;transform:scaleX(1.0292);">CAM 02</span>
<span class="t " style="font-size:15.70px;line-height:15.70px;top:921.14px;color:#fff;left:892.31px;transform-origin:0 0;transform:scaleX(1.1213);">60</span>
<div class="b " style="left:540.20px;top:956.76px;width:340.60px;height:29.00px;background:#e85b7c;"></div>
<span class="t " style="font-size:15.80px;line-height:15.80px;top:963.69px;color:#fff;right:2036.81px;transform-origin:100% 0;transform:scaleX(1.0288);">CAM 01</span>
<span class="t " style="font-size:15.70px;line-height:15.70px;top:964.62px;color:#fff;left:892.31px;transform-origin:0 0;transform:scaleX(1.1213);">60</span>
<div class="b " style="left:540.20px;top:1000.24px;width:340.60px;height:29.00px;background:#e85b7c;"></div>
<span class="t " style="font-size:15.80px;line-height:15.80px;top:1007.17px;color:#fff;right:2037.25px;transform-origin:100% 0;transform:scaleX(0.9560);">BOB CAT</span>
<span class="t " style="font-size:15.70px;line-height:15.70px;top:1008.10px;color:#fff;left:892.31px;transform-origin:0 0;transform:scaleX(1.1213);">60</span>
<div class="b " style="left:540.20px;top:1043.73px;width:112.80px;height:29.00px;background:#e85b7c;"></div>
<span class="t " style="font-size:15.80px;line-height:15.80px;top:1050.65px;color:#fff;right:2024.43px;transform-origin:100% 0;transform:scaleX(0.9520);">ESC- KOMATSU -...</span>
<span class="t " style="font-size:15.70px;line-height:15.70px;top:1051.59px;color:#fff;left:664.70px;transform-origin:0 0;transform:scaleX(1.1186);">59</span>
<div class="b " style="left:540.20px;top:1087.21px;width:112.80px;height:29.00px;background:#e85b7c;"></div>
<span class="t " style="font-size:15.80px;line-height:15.80px;top:1094.13px;color:#fff;right:2024.52px;transform-origin:100% 0;transform:scaleX(0.8903);">ESC -...</span>
<span class="t " style="font-size:15.70px;line-height:15.70px;top:1095.07px;color:#fff;left:664.70px;transform-origin:0 0;transform:scaleX(1.1186);">59</span>
<div class="b " style="left:540.20px;top:1130.69px;width:112.80px;height:29.00px;background:#e85b7c;"></div>
<span class="t " style="font-size:15.80px;line-height:15.80px;top:1137.61px;color:#fff;right:2037.13px;transform-origin:100% 0;transform:scaleX(1.0231);">CAM 04</span>
<span class="t " style="font-size:15.70px;line-height:15.70px;top:1138.55px;color:#fff;left:664.70px;transform-origin:0 0;transform:scaleX(1.1186);">59</span>
<div class="b " style="left:540.20px;top:1174.17px;width:112.80px;height:29.00px;background:#e85b7c;"></div>
<span class="t " style="font-size:15.80px;line-height:15.80px;top:1181.10px;color:#fff;right:2036.92px;transform-origin:100% 0;transform:scaleX(1.0268);">CAM 05</span>
<span class="t " style="font-size:15.70px;line-height:15.70px;top:1182.03px;color:#fff;left:664.70px;transform-origin:0 0;transform:scaleX(1.1186);">59</span>
<div class="b " style="left:540.20px;top:1217.65px;width:112.80px;height:29.00px;background:#e85b7c;"></div>
<span class="t " style="font-size:15.80px;line-height:15.80px;top:1224.58px;color:#fff;right:2024.50px;transform-origin:100% 0;transform:scaleX(0.9008);">ESC-...</span>
<span class="t " style="font-size:15.70px;line-height:15.70px;top:1225.51px;color:#fff;left:664.70px;transform-origin:0 0;transform:scaleX(1.1186);">59</span>
<div class="b " style="left:540.20px;top:1261.13px;width:112.80px;height:29.00px;background:#e85b7c;"></div>
<span class="t " style="font-size:15.80px;line-height:15.80px;top:1268.06px;color:#fff;right:2036.95px;transform-origin:100% 0;transform:scaleX(0.9517);">ESC-LIU-GONG 08</span>
<span class="t " style="font-size:15.70px;line-height:15.70px;top:1268.99px;color:#fff;left:664.70px;transform-origin:0 0;transform:scaleX(1.1186);">59</span>
<div class="b " style="left:540.20px;top:1304.62px;width:112.80px;height:29.00px;background:#e85b7c;"></div>
<span class="t " style="font-size:15.80px;line-height:15.80px;top:1311.54px;color:#fff;right:2036.94px;transform-origin:100% 0;transform:scaleX(0.9509);">ESC -VOLVO - 03</span>
<span class="t " style="font-size:15.70px;line-height:15.70px;top:1312.47px;color:#fff;left:664.70px;transform-origin:0 0;transform:scaleX(1.1186);">59</span>
<div class="b " style="left:540.20px;top:1348.10px;width:112.80px;height:29.00px;background:#e85b7c;"></div>
<span class="t " style="font-size:15.80px;line-height:15.80px;top:1355.02px;color:#fff;right:2036.83px;transform-origin:100% 0;transform:scaleX(0.9655);">DRAG-LINE-02</span>
<span class="t " style="font-size:15.70px;line-height:15.70px;top:1355.96px;color:#fff;left:664.70px;transform-origin:0 0;transform:scaleX(1.1186);">59</span>
<div class="b " style="left:540.20px;top:1391.58px;width:112.80px;height:29.00px;background:#e85b7c;"></div>
<span class="t " style="font-size:15.80px;line-height:15.80px;top:1398.50px;color:#fff;right:2024.44px;transform-origin:100% 0;transform:scaleX(0.9446);">ESC - NEW...</span>
<span class="t " style="font-size:15.70px;line-height:15.70px;top:1399.44px;color:#fff;left:664.70px;transform-origin:0 0;transform:scaleX(1.1186);">59</span>
<div class="b " style="left:540.20px;top:1435.06px;width:112.80px;height:29.00px;background:#e85b7c;"></div>
<span class="t " style="font-size:15.80px;line-height:15.80px;top:1441.98px;color:#fff;right:2036.86px;transform-origin:100% 0;transform:scaleX(0.9551);">DRAG- LINE- 01</span>
<span class="t " style="font-size:15.70px;line-height:15.70px;top:1442.92px;color:#fff;left:664.70px;transform-origin:0 0;transform:scaleX(1.1186);">59</span>
<div class="b sh" style="left:1008.20px;top:804.10px;width:541.70px;height:673.60px;background:#100627;"></div>
<span class="t " style="font-size:22.82px;line-height:22.82px;top:814.48px;color:#fff;font-weight:700;left:1015.14px;transform-origin:0 0;transform:scaleX(1.0284);-webkit-text-stroke:.45px #fff;">VALOR POR EQUIPAMENTO</span>
<div class="b " style="left:1211.20px;top:859.10px;width:1.90px;height:614.60px;background:#e4def2;"></div>
<div class="b " style="left:1213.20px;top:867.16px;width:288.00px;height:29.00px;background:#e85b7c;"></div>
<span class="t " style="font-size:15.80px;line-height:15.80px;top:873.19px;color:#fff;right:1364.29px;transform-origin:100% 0;transform:scaleX(1.0274);">CAM 03</span>
<span class="t " style="font-size:15.70px;line-height:15.70px;top:873.72px;color:#fff;left:1469.98px;transform-origin:0 0;transform:scaleX(1.0248);">R$ 376,50</span>
<div class="b " style="left:1213.20px;top:911.08px;width:271.59px;height:29.00px;background:#e85b7c;"></div>
<span class="t " style="font-size:15.80px;line-height:15.80px;top:917.11px;color:#fff;right:1364.21px;transform-origin:100% 0;transform:scaleX(1.0288);">CAM 01</span>
<span class="t " style="font-size:15.70px;line-height:15.70px;top:917.64px;color:#fff;left:1469.98px;transform-origin:0 0;transform:scaleX(1.0258);">R$ 375,28</span>
<div class="b " style="left:1213.20px;top:955.00px;width:260.83px;height:29.00px;background:#e85b7c;"></div>
<span class="t " style="font-size:15.80px;line-height:15.80px;top:961.03px;color:#fff;right:1364.65px;transform-origin:100% 0;transform:scaleX(0.9560);">BOB CAT</span>
<span class="t " style="font-size:15.70px;line-height:15.70px;top:961.56px;color:#fff;left:1469.98px;transform-origin:0 0;transform:scaleX(1.0258);">R$ 374,48</span>
<div class="b " style="left:1213.20px;top:998.92px;width:226.13px;height:29.00px;background:#e85b7c;"></div>
<span class="t " style="font-size:15.80px;line-height:15.80px;top:1004.95px;color:#fff;right:1364.18px;transform-origin:100% 0;transform:scaleX(1.0292);">CAM 02</span>
<span class="t " style="font-size:15.70px;line-height:15.70px;top:1005.48px;color:#fff;left:1454.71px;transform-origin:0 0;transform:scaleX(1.0248);">R$ 371,90</span>
<div class="b " style="left:1213.20px;top:1042.85px;width:207.03px;height:29.00px;background:#e85b7c;"></div>
<span class="t " style="font-size:15.80px;line-height:15.80px;top:1048.87px;color:#fff;right:1364.53px;transform-origin:100% 0;transform:scaleX(1.0231);">CAM 04</span>
<span class="t " style="font-size:15.70px;line-height:15.70px;top:1049.41px;color:#fff;left:1435.61px;transform-origin:0 0;transform:scaleX(1.0258);">R$ 370,48</span>
<div class="b " style="left:1213.20px;top:1086.77px;width:195.06px;height:29.00px;background:#e85b7c;"></div>
<span class="t " style="font-size:15.80px;line-height:15.80px;top:1092.79px;color:#fff;right:1364.23px;transform-origin:100% 0;transform:scaleX(0.9655);">DRAG-LINE-02</span>
<span class="t " style="font-size:15.70px;line-height:15.70px;top:1093.33px;color:#fff;left:1423.64px;transform-origin:0 0;transform:scaleX(1.0267);">R$ 369,59</span>
<div class="b " style="left:1213.20px;top:1130.69px;width:183.09px;height:29.00px;background:#e85b7c;"></div>
<span class="t " style="font-size:15.80px;line-height:15.80px;top:1136.71px;color:#fff;right:1364.97px;transform-origin:100% 0;transform:scaleX(0.9414);">ESC - PANTANEIRA</span>
<span class="t " style="font-size:15.70px;line-height:15.70px;top:1137.25px;color:#fff;left:1411.67px;transform-origin:0 0;transform:scaleX(1.0248);">R$ 368,70</span>
<div class="b " style="left:1213.20px;top:1174.61px;width:181.75px;height:29.00px;background:#e85b7c;"></div>
<span class="t " style="font-size:15.80px;line-height:15.80px;top:1180.64px;color:#fff;right:1364.26px;transform-origin:100% 0;transform:scaleX(0.9551);">DRAG- LINE- 01</span>
<span class="t " style="font-size:15.70px;line-height:15.70px;top:1181.17px;color:#fff;left:1410.33px;transform-origin:0 0;transform:scaleX(1.0248);">R$ 368,60</span>
<div class="b " style="left:1213.20px;top:1218.53px;width:181.48px;height:29.00px;background:#e85b7c;"></div>
<span class="t " style="font-size:15.80px;line-height:15.80px;top:1224.56px;color:#fff;right:1364.41px;transform-origin:100% 0;transform:scaleX(0.9562);">ESC - NEW HOLLAND -10</span>
<span class="t " style="font-size:15.70px;line-height:15.70px;top:1225.09px;color:#fff;left:1410.05px;transform-origin:0 0;transform:scaleX(1.0258);">R$ 368,58</span>
<div class="b " style="left:1213.20px;top:1262.45px;width:179.05px;height:29.00px;background:#e85b7c;"></div>
<span class="t " style="font-size:15.80px;line-height:15.80px;top:1268.48px;color:#fff;right:1364.27px;transform-origin:100% 0;transform:scaleX(0.9127);">ESC- CATERPILLAR -02</span>
<span class="t " style="font-size:15.70px;line-height:15.70px;top:1269.01px;color:#fff;left:1407.64px;transform-origin:0 0;transform:scaleX(1.0248);">R$ 368,40</span>
<div class="b " style="left:1213.20px;top:1306.38px;width:166.55px;height:29.00px;background:#e85b7c;"></div>
<span class="t " style="font-size:15.80px;line-height:15.80px;top:1312.40px;color:#fff;right:1364.32px;transform-origin:100% 0;transform:scaleX(1.0268);">CAM 05</span>
<span class="t " style="font-size:15.70px;line-height:15.70px;top:1312.93px;color:#fff;left:1395.12px;transform-origin:0 0;transform:scaleX(1.0274);">R$ 367,47</span>
<div class="b " style="left:1213.20px;top:1350.30px;width:164.26px;height:29.00px;background:#e85b7c;"></div>
<span class="t " style="font-size:15.80px;line-height:15.80px;top:1356.32px;color:#fff;right:1364.35px;transform-origin:100% 0;transform:scaleX(0.9517);">ESC-LIU-GONG 08</span>
<span class="t " style="font-size:15.70px;line-height:15.70px;top:1356.86px;color:#fff;left:1392.84px;transform-origin:0 0;transform:scaleX(1.0248);">R$ 367,30</span>
<div class="b " style="left:1213.20px;top:1394.22px;width:140.45px;height:29.00px;background:#e85b7c;"></div>
<span class="t " style="font-size:15.80px;line-height:15.80px;top:1400.24px;color:#fff;right:1364.34px;transform-origin:100% 0;transform:scaleX(0.9509);">ESC -VOLVO - 03</span>
<span class="t " style="font-size:15.70px;line-height:15.70px;top:1400.78px;color:#fff;left:1369.03px;transform-origin:0 0;transform:scaleX(1.0259);">R$ 365,53</span>
<div class="b " style="left:1213.20px;top:1438.14px;width:136.82px;height:29.00px;background:#e85b7c;"></div>
<span class="t " style="font-size:15.80px;line-height:15.80px;top:1444.16px;color:#fff;right:1364.36px;transform-origin:100% 0;transform:scaleX(0.9629);">ESC- KOMATSU -05</span>
<span class="t " style="font-size:15.70px;line-height:15.70px;top:1444.70px;color:#fff;left:1365.40px;transform-origin:0 0;transform:scaleX(1.0259);">R$ 365,26</span>
<div class="b sh" style="left:1566.30px;top:802.90px;width:537.60px;height:673.10px;background:#100627;"></div>
<span class="t " style="font-size:22.82px;line-height:22.82px;top:813.38px;color:#fff;font-weight:700;left:1572.13px;transform-origin:0 0;transform:scaleX(1.0310);-webkit-text-stroke:.45px #fff;">COMBUSTÍVEL POR EQUIPAMENTO</span>
<div class="b " style="left:1768.15px;top:858.40px;width:1.90px;height:613.50px;background:#e4def2;"></div>
<div class="b " style="left:1770.30px;top:865.15px;width:298.90px;height:29.30px;background:#e85b7c;"></div>
<span class="t " style="font-size:15.80px;line-height:15.80px;top:872.03px;color:#fff;right:807.49px;transform-origin:100% 0;transform:scaleX(1.0274);">CAM 03</span>
<span class="t " style="font-size:15.70px;line-height:15.70px;top:872.71px;color:#fff;left:2034.07px;transform-origin:0 0;transform:scaleX(1.0515);">3.596,87</span>
<div class="b " style="left:1770.30px;top:909.07px;width:291.72px;height:29.30px;background:#e85b7c;"></div>
<span class="t " style="font-size:15.80px;line-height:15.80px;top:915.95px;color:#fff;right:807.52px;transform-origin:100% 0;transform:scaleX(1.0268);">CAM 05</span>
<span class="t " style="font-size:15.70px;line-height:15.70px;top:916.63px;color:#fff;left:2034.06px;transform-origin:0 0;transform:scaleX(1.0715);">3.511,09</span>
<div class="b " style="left:1770.30px;top:952.99px;width:289.49px;height:29.30px;background:#e85b7c;"></div>
<span class="t " style="font-size:15.80px;line-height:15.80px;top:959.87px;color:#fff;right:807.41px;transform-origin:100% 0;transform:scaleX(1.0288);">CAM 01</span>
<span class="t " style="font-size:15.70px;line-height:15.70px;top:960.55px;color:#fff;left:2034.07px;transform-origin:0 0;transform:scaleX(1.0507);">3.484,49</span>
<div class="b " style="left:1770.30px;top:996.92px;width:280.81px;height:29.30px;background:#e85b7c;"></div>
<span class="t " style="font-size:15.80px;line-height:15.80px;top:1003.79px;color:#fff;right:807.73px;transform-origin:100% 0;transform:scaleX(1.0231);">CAM 04</span>
<span class="t " style="font-size:15.70px;line-height:15.70px;top:1004.47px;color:#fff;left:2034.07px;transform-origin:0 0;transform:scaleX(1.0497);">3.380,76</span>
<div class="b " style="left:1770.30px;top:1040.84px;width:274.57px;height:29.30px;background:#e85b7c;"></div>
<span class="t " style="font-size:15.80px;line-height:15.80px;top:1047.71px;color:#fff;right:807.38px;transform-origin:100% 0;transform:scaleX(1.0292);">CAM 02</span>
<span class="t " style="font-size:15.70px;line-height:15.70px;top:1048.40px;color:#fff;left:2034.07px;transform-origin:0 0;transform:scaleX(1.0515);">3.306,22</span>
<div class="b " style="left:1770.30px;top:1084.76px;width:235.36px;height:29.30px;background:#e85b7c;"></div>
<span class="t " style="font-size:15.80px;line-height:15.80px;top:1091.63px;color:#fff;right:807.46px;transform-origin:100% 0;transform:scaleX(0.9551);">DRAG- LINE- 01</span>
<span class="t " style="font-size:15.70px;line-height:15.70px;top:1092.32px;color:#fff;left:2016.63px;transform-origin:0 0;transform:scaleX(1.0490);">2.837,74</span>
<div class="b " style="left:1770.30px;top:1128.68px;width:225.96px;height:29.30px;background:#e85b7c;"></div>
<span class="t " style="font-size:15.80px;line-height:15.80px;top:1135.55px;color:#fff;right:807.43px;transform-origin:100% 0;transform:scaleX(0.9655);">DRAG-LINE-02</span>
<span class="t " style="font-size:15.70px;line-height:15.70px;top:1136.24px;color:#fff;left:2007.22px;transform-origin:0 0;transform:scaleX(1.0549);">2.725,37</span>
<div class="b " style="left:1770.30px;top:1172.60px;width:214.98px;height:29.30px;background:#e85b7c;"></div>
<span class="t " style="font-size:15.80px;line-height:15.80px;top:1179.48px;color:#fff;right:807.56px;transform-origin:100% 0;transform:scaleX(0.9629);">ESC- KOMATSU -05</span>
<span class="t " style="font-size:15.70px;line-height:15.70px;top:1180.16px;color:#fff;left:1996.25px;transform-origin:0 0;transform:scaleX(1.0549);">2.594,22</span>
<div class="b " style="left:1770.30px;top:1216.52px;width:206.84px;height:29.30px;background:#e85b7c;"></div>
<span class="t " style="font-size:15.80px;line-height:15.80px;top:1223.40px;color:#fff;right:807.54px;transform-origin:100% 0;transform:scaleX(0.9509);">ESC -VOLVO - 03</span>
<span class="t " style="font-size:15.70px;line-height:15.70px;top:1224.08px;color:#fff;left:1988.11px;transform-origin:0 0;transform:scaleX(1.0549);">2.497,02</span>
<div class="b " style="left:1770.30px;top:1260.44px;width:203.98px;height:29.30px;background:#e85b7c;"></div>
<span class="t " style="font-size:15.80px;line-height:15.80px;top:1267.32px;color:#fff;right:807.47px;transform-origin:100% 0;transform:scaleX(0.9127);">ESC- CATERPILLAR -02</span>
<span class="t " style="font-size:15.70px;line-height:15.70px;top:1268.00px;color:#fff;left:1985.25px;transform-origin:0 0;transform:scaleX(1.0549);">2.462,82</span>
<div class="b " style="left:1770.30px;top:1304.37px;width:197.97px;height:29.30px;background:#e85b7c;"></div>
<span class="t " style="font-size:15.80px;line-height:15.80px;top:1311.24px;color:#fff;right:807.55px;transform-origin:100% 0;transform:scaleX(0.9517);">ESC-LIU-GONG 08</span>
<span class="t " style="font-size:15.70px;line-height:15.70px;top:1311.92px;color:#fff;left:1979.24px;transform-origin:0 0;transform:scaleX(1.0549);">2.391,02</span>
<div class="b " style="left:1770.30px;top:1348.29px;width:186.79px;height:29.30px;background:#e85b7c;"></div>
<span class="t " style="font-size:15.80px;line-height:15.80px;top:1355.16px;color:#fff;right:807.61px;transform-origin:100% 0;transform:scaleX(0.9562);">ESC - NEW HOLLAND -10</span>
<span class="t " style="font-size:15.70px;line-height:15.70px;top:1355.85px;color:#fff;left:1968.06px;transform-origin:0 0;transform:scaleX(1.0517);">2.257,50</span>
<div class="b " style="left:1770.30px;top:1392.21px;width:185.98px;height:29.30px;background:#e85b7c;"></div>
<span class="t " style="font-size:15.80px;line-height:15.80px;top:1399.08px;color:#fff;right:808.17px;transform-origin:100% 0;transform:scaleX(0.9414);">ESC - PANTANEIRA</span>
<span class="t " style="font-size:15.70px;line-height:15.70px;top:1399.77px;color:#fff;left:1967.25px;transform-origin:0 0;transform:scaleX(1.0517);">2.247,80</span>
<div class="b " style="left:1770.30px;top:1436.13px;width:115.69px;height:29.30px;background:#e85b7c;"></div>
<span class="t " style="font-size:15.80px;line-height:15.80px;top:1443.00px;color:#fff;right:807.85px;transform-origin:100% 0;transform:scaleX(0.9560);">BOB CAT</span>
<span class="t " style="font-size:15.70px;line-height:15.70px;top:1443.69px;color:#fff;left:1896.52px;transform-origin:0 0;transform:scaleX(1.0602);">1.407,98</span>
<div class="b sh" style="left:2111.40px;top:807.70px;width:416.60px;height:664.80px;background:#100627;"></div>
<span class="t " style="font-size:22.82px;line-height:22.82px;top:818.18px;color:#fff;font-weight:700;left:2117.08px;transform-origin:0 0;transform:scaleX(0.9826);-webkit-text-stroke:.45px #fff;">OPERAÇÕES POR CIDADE</span>
<div class="b " style="left:2241.15px;top:874.20px;width:1.90px;height:597.80px;background:#e4def2;"></div>
<div class="b " style="left:2243.30px;top:891.14px;width:194.70px;height:65.70px;background:#e85b7c;"></div>
<span class="t " style="font-size:15.80px;line-height:15.80px;top:915.62px;color:#fff;right:335.10px;transform-origin:100% 0;transform:scaleX(1.0728);">pirapora</span>
<span class="t " style="font-size:15.70px;line-height:15.70px;top:916.50px;color:#fff;left:2450.16px;transform-origin:0 0;transform:scaleX(1.0684);">207</span>
<div class="b " style="left:2243.30px;top:990.73px;width:194.70px;height:65.70px;background:#e85b7c;"></div>
<span class="t " style="font-size:15.80px;line-height:15.80px;top:1015.20px;color:#fff;right:334.36px;transform-origin:100% 0;transform:scaleX(1.1151);">buritizeiro</span>
<span class="t " style="font-size:15.70px;line-height:15.70px;top:1016.08px;color:#fff;left:2450.16px;transform-origin:0 0;transform:scaleX(1.0684);">207</span>
<div class="b " style="left:2243.30px;top:1090.31px;width:97.60px;height:65.70px;background:#e85b7c;"></div>
<span class="t " style="font-size:15.80px;line-height:15.80px;top:1103.88px;color:#fff;left:2155.83px;transform-origin:50% 0;transform:scaleX(0.9909);">várzea da</span>
<span class="t " style="font-size:15.80px;line-height:15.80px;top:1125.68px;color:#fff;left:2168.50px;transform-origin:50% 0;transform:scaleX(1.0568);">palma</span>
<span class="t " style="font-size:15.70px;line-height:15.70px;top:1115.67px;color:#fff;left:2352.60px;transform-origin:0 0;transform:scaleX(1.0881);">104</span>
<div class="b " style="left:2243.30px;top:1189.89px;width:97.60px;height:65.70px;background:#e85b7c;"></div>
<span class="t " style="font-size:15.80px;line-height:15.80px;top:1214.37px;color:#fff;right:334.51px;transform-origin:100% 0;transform:scaleX(1.0410);">três marias</span>
<span class="t " style="font-size:15.70px;line-height:15.70px;top:1215.25px;color:#fff;left:2352.60px;transform-origin:0 0;transform:scaleX(1.0881);">104</span>
<div class="b " style="left:2243.30px;top:1289.48px;width:97.60px;height:65.70px;background:#e85b7c;"></div>
<span class="t " style="font-size:15.80px;line-height:15.80px;top:1313.95px;color:#fff;right:335.02px;transform-origin:100% 0;transform:scaleX(1.0772);">ibiaí</span>
<span class="t " style="font-size:15.70px;line-height:15.70px;top:1314.83px;color:#fff;left:2352.60px;transform-origin:0 0;transform:scaleX(1.0881);">104</span>
<div class="b " style="left:2243.30px;top:1389.06px;width:97.60px;height:65.70px;background:#e85b7c;"></div>
<span class="t " style="font-size:15.80px;line-height:15.80px;top:1413.53px;color:#fff;right:334.39px;transform-origin:100% 0;transform:scaleX(1.0051);">lassance</span>
<span class="t " style="font-size:15.70px;line-height:15.70px;top:1414.42px;color:#fff;left:2352.60px;transform-origin:0 0;transform:scaleX(1.0881);">104</span>
</body></html>
